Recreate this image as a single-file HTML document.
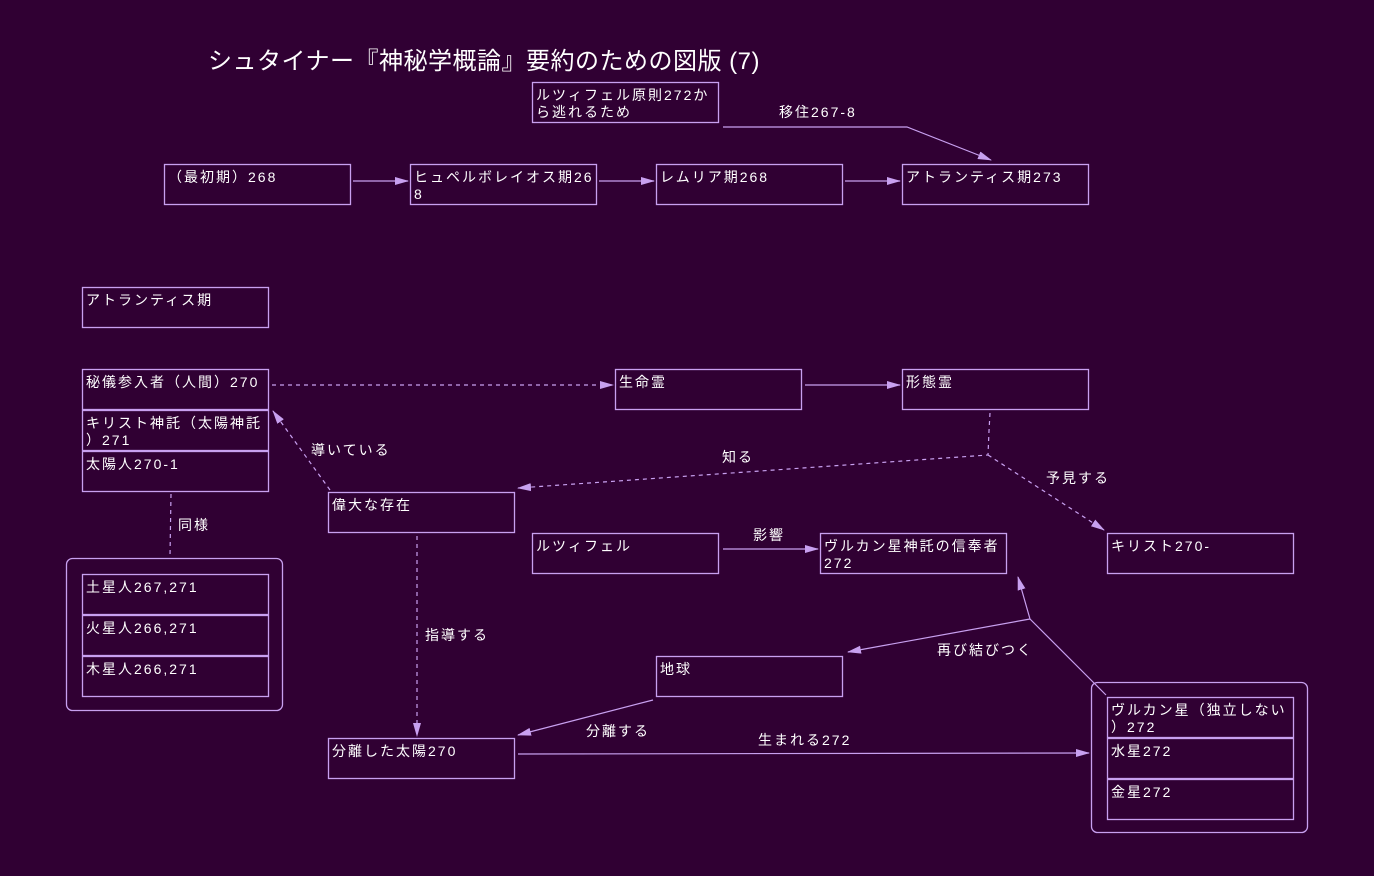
<!DOCTYPE html>
<html><head><meta charset="utf-8">
<style>
html,body{margin:0;padding:0;background:#300033;}
svg{display:block}
text{font-family:"Liberation Sans","Noto Sans CJK JP",sans-serif;fill:#ffffff;}
.t{font-size:14px;letter-spacing:2px;}
.ttl{font-size:24px;letter-spacing:0.5px;}
.b{fill:none;stroke:#c8a0f0;stroke-width:1.3;}
.l{fill:none;stroke:#c8a0f0;stroke-width:1.2;}
.d{fill:none;stroke:#c8a0f0;stroke-width:1.2;stroke-dasharray:4 4;}
</style></head>
<body>
<svg width="1374" height="876" viewBox="0 0 1374 876" xmlns="http://www.w3.org/2000/svg">
<defs>
<marker id="a" markerWidth="14" markerHeight="10" refX="13" refY="5" orient="auto" markerUnits="userSpaceOnUse">
<path d="M0,1 L14,5 L0,9 z" fill="#c8a0f0"/>
</marker>
</defs>
<rect width="1374" height="876" fill="#300033"/>

<text class="ttl" x="208" y="69">シュタイナー『神秘学概論』要約のための図版 (7)</text>

<!-- top row -->
<rect class="b" x="532.5" y="82.5" width="186" height="40"/>
<text class="t" x="536" y="100">ルツィフェル原則272か</text>
<text class="t" x="536" y="117">ら逃れるため</text>

<rect class="b" x="164.5" y="164.5" width="186" height="40"/>
<text class="t" x="168" y="182">（最初期）268</text>
<rect class="b" x="410.5" y="164.5" width="186" height="40"/>
<text class="t" x="414" y="182">ヒュペルボレイオス期26</text>
<text class="t" x="414" y="199">8</text>
<rect class="b" x="656.5" y="164.5" width="186" height="40"/>
<text class="t" x="660" y="182">レムリア期268</text>
<rect class="b" x="902.5" y="164.5" width="186" height="40"/>
<text class="t" x="906" y="182">アトランティス期273</text>

<line class="l" x1="353" y1="181" x2="408" y2="181" marker-end="url(#a)"/>
<line class="l" x1="599" y1="181" x2="654" y2="181" marker-end="url(#a)"/>
<line class="l" x1="845" y1="181" x2="900" y2="181" marker-end="url(#a)"/>

<polyline class="l" points="723,127 907,127 991,160" marker-end="url(#a)"/>
<text class="t" x="779" y="117">移住267-8</text>

<!-- middle -->
<rect class="b" x="82.5" y="287.5" width="186" height="40"/>
<text class="t" x="86" y="305">アトランティス期</text>

<rect class="b" x="82.5" y="369.5" width="186" height="40"/>
<text class="t" x="86" y="387">秘儀参入者（人間）270</text>
<rect class="b" x="82.5" y="410.5" width="186" height="40"/>
<text class="t" x="86" y="428">キリスト神託（太陽神託</text>
<text class="t" x="86" y="445">）271</text>
<rect class="b" x="82.5" y="451.5" width="186" height="40"/>
<text class="t" x="86" y="469">太陽人270-1</text>

<rect class="b" x="615.5" y="369.5" width="186" height="40"/>
<text class="t" x="619" y="387">生命霊</text>
<rect class="b" x="902.5" y="369.5" width="186" height="40"/>
<text class="t" x="906" y="387">形態霊</text>

<line class="d" x1="272" y1="385" x2="613" y2="385" marker-end="url(#a)"/>
<line class="l" x1="805" y1="385" x2="900" y2="385" marker-end="url(#a)"/>

<polyline class="d" points="990,413 989,431 988,455 518,488" marker-end="url(#a)"/>
<text class="t" x="722" y="462">知る</text>
<line class="d" x1="988" y1="455" x2="1104" y2="530" marker-end="url(#a)"/>
<text class="t" x="1046" y="483">予見する</text>

<rect class="b" x="328.5" y="492.5" width="186" height="40"/>
<text class="t" x="332" y="510">偉大な存在</text>
<line class="d" x1="330" y1="490" x2="273" y2="411" marker-end="url(#a)"/>
<text class="t" x="311" y="455">導いている</text>

<rect class="b" x="1107.5" y="533.5" width="186" height="40"/>
<text class="t" x="1111" y="551">キリスト270-</text>

<rect class="b" x="532.5" y="533.5" width="186" height="40"/>
<text class="t" x="536" y="551">ルツィフェル</text>
<rect class="b" x="820.5" y="533.5" width="186" height="40"/>
<text class="t" x="824" y="551">ヴルカン星神託の信奉者</text>
<text class="t" x="824" y="568">272</text>
<line class="l" x1="723" y1="549" x2="818" y2="549" marker-end="url(#a)"/>
<text class="t" x="753" y="540">影響</text>

<!-- left group -->
<line class="d" x1="171" y1="494" x2="170" y2="556"/>
<text class="t" x="178" y="530">同様</text>
<rect class="b" x="66.5" y="558.5" width="216" height="152" rx="6" ry="6"/>
<rect class="b" x="82.5" y="574.5" width="186" height="40"/>
<text class="t" x="86" y="592">土星人267,271</text>
<rect class="b" x="82.5" y="615.5" width="186" height="40"/>
<text class="t" x="86" y="633">火星人266,271</text>
<rect class="b" x="82.5" y="656.5" width="186" height="40"/>
<text class="t" x="86" y="674">木星人266,271</text>

<line class="d" x1="417" y1="536" x2="417" y2="736" marker-end="url(#a)"/>
<text class="t" x="425" y="640">指導する</text>

<rect class="b" x="656.5" y="656.5" width="186" height="40"/>
<text class="t" x="660" y="674">地球</text>
<rect class="b" x="328.5" y="738.5" width="186" height="40"/>
<text class="t" x="332" y="756">分離した太陽270</text>

<line class="l" x1="653" y1="700" x2="518" y2="735" marker-end="url(#a)"/>
<text class="t" x="586" y="736">分離する</text>
<line class="l" x1="518" y1="754" x2="1089" y2="753" marker-end="url(#a)"/>
<text class="t" x="758" y="745">生まれる272</text>

<line class="l" x1="1106" y1="695" x2="1030" y2="619"/>
<line class="l" x1="1030" y1="619" x2="1018" y2="577" marker-end="url(#a)"/>
<line class="l" x1="1030" y1="619" x2="848" y2="652" marker-end="url(#a)"/>
<text class="t" x="937" y="655">再び結びつく</text>

<!-- right group -->
<rect class="b" x="1091.5" y="682.5" width="216" height="150" rx="6" ry="6"/>
<rect class="b" x="1107.5" y="697.5" width="186" height="40"/>
<text class="t" x="1111" y="715">ヴルカン星（独立しない</text>
<text class="t" x="1111" y="732">）272</text>
<rect class="b" x="1107.5" y="738.5" width="186" height="40"/>
<text class="t" x="1111" y="756">水星272</text>
<rect class="b" x="1107.5" y="779.5" width="186" height="40"/>
<text class="t" x="1111" y="797">金星272</text>
</svg>
</body></html>
